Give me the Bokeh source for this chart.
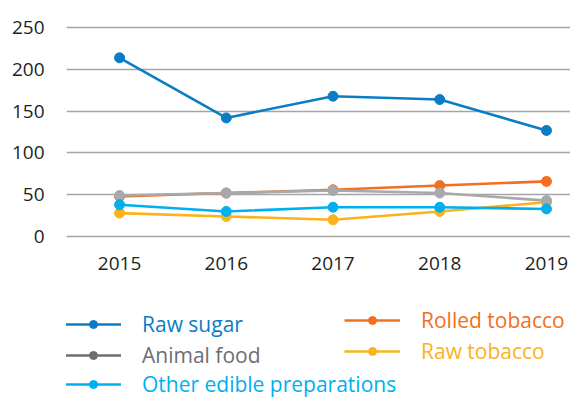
from bokeh.plotting import figure
from bokeh.models import Range1d, FixedTicker, Legend, LegendItem
from bokeh.layouts import column
from bokeh.embed import file_html
from bokeh.resources import INLINE

years = [2015, 2016, 2017, 2018, 2019]
raw_sugar = [214, 142, 168, 164, 127]
rolled_tobacco = [48, 52, 56, 61, 66]
raw_tobacco = [28, 24, 20, 30, 41]
animal_food = [49, 52, 55, 52, 43]
other_edible = [38, 30, 35, 35, 33]
y_ticks = [0, 50, 100, 150, 200, 250]

names = ["Raw sugar", "Rolled tobacco", "Raw tobacco", "Animal food", "Other edible preparations"]
values = [raw_sugar, rolled_tobacco, raw_tobacco, animal_food, other_edible]
line_colors = ["#0a7dc4", "#f26f21", "#fbb21b", "#a7a9ac", "#00b0ee"]
legend_colors = ["#0a7dc4", "#f26f21", "#fbb21b", "#6d6e71", "#00b0ee"]

FONT = "Open Sans"
TXT = "#231f20"

p = figure(width=570, height=290, output_backend="svg", toolbar_location=None,
           x_range=Range1d(2014.503, 2019.225), y_range=Range1d(-14.4, 261.1),
           min_border_left=66, min_border_right=0, min_border_top=18, min_border_bottom=42)
p.outline_line_color = None
p.xgrid.grid_line_color = None
p.ygrid.ticker = FixedTicker(ticks=y_ticks)
p.ygrid.grid_line_color = "#a3a5a8"
p.ygrid.grid_line_width = 1.5
p.xaxis.ticker = FixedTicker(ticks=years)
p.yaxis.ticker = FixedTicker(ticks=y_ticks)
for ax in (p.xaxis, p.yaxis):
    ax.axis_line_color = None
    ax.major_tick_line_color = None
    ax.minor_tick_line_color = None
    ax.major_tick_out = 0
    ax.major_tick_in = 0
    ax.major_label_text_font = FONT
    ax.major_label_text_font_size = "19px"
    ax.major_label_text_color = TXT
p.xaxis.major_label_standoff = 8
p.yaxis.major_label_standoff = 22

for name, vals, col in zip(names, values, line_colors):
    p.line(years, vals, line_color=col, line_width=2.6)
    p.scatter(years, vals, fill_color=col, line_color=col, size=10)

lg = figure(width=570, height=108, output_backend="svg", toolbar_location=None,
            x_range=Range1d(0, 570), y_range=Range1d(0, 108),
            x_axis_location=None, y_axis_location=None,
            min_border_left=0, min_border_right=0, min_border_top=0, min_border_bottom=0)
lg.outline_line_color = None
lg.xgrid.grid_line_color = None
lg.ygrid.grid_line_color = None

# legend layout (screen units in the legend panel)
legend_pos = {
    "Raw sugar": (-1, 60),
    "Animal food": (-1, 29),
    "Other edible preparations": (-1, 0),
    "Rolled tobacco": (278, 64),
    "Raw tobacco": (278, 33),
}
nan = float("nan")
for name, col in zip(names, legend_colors):
    lr = lg.line(x=[nan], y=[nan], line_color=col, line_width=2.6)
    sr = lg.scatter(x=[nan], y=[nan], fill_color=col, line_color=col, size=11)
    leg = Legend(items=[LegendItem(label=name, renderers=[lr, sr])],
                 location=legend_pos[name], orientation="vertical",
                 glyph_width=56, glyph_height=20, label_height=20,
                 label_standoff=21, padding=0, margin=0, spacing=0,
                 border_line_color=None, background_fill_alpha=0,
                 label_text_font=FONT, label_text_font_size="21px",
                 label_text_color=col, label_text_baseline="alphabetic")
    lg.add_layout(leg)

layout = column(p, lg, spacing=0)
open("out.html", "w").write(file_html(layout, INLINE))
